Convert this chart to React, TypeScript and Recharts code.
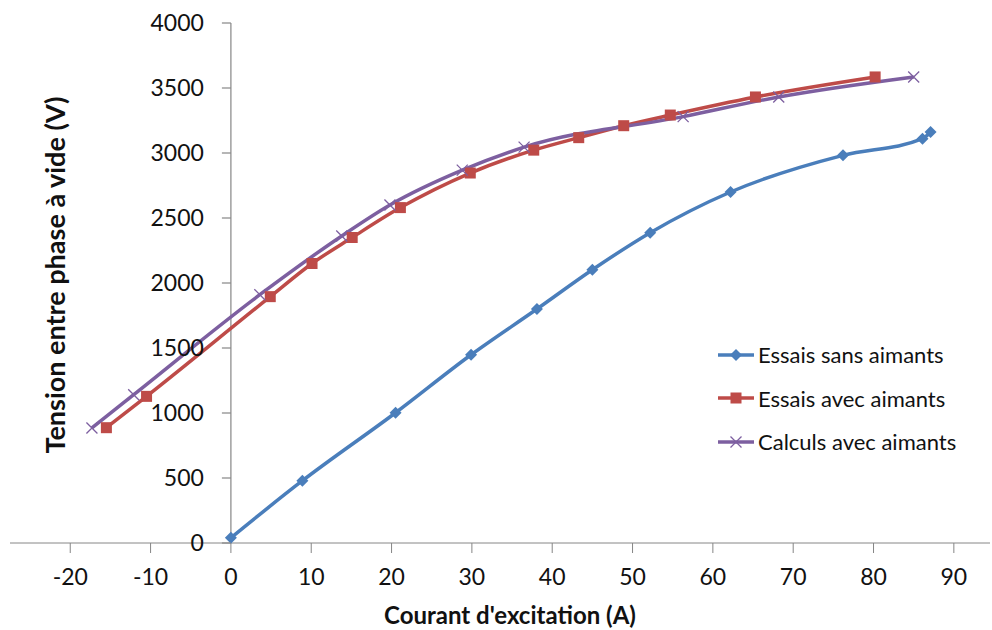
import { LineChart, Line, XAxis, YAxis, ReferenceLine } from "recharts";

// Essais sans aimants
const sansX = [0, 8.9, 20.5, 29.9, 38.1, 45, 52.2, 62.2, 76.2, 86.1, 87.1];
const sansY = [40, 479, 1002, 1448, 1800, 2102, 2387, 2700, 2982, 3110, 3162];

// Essais avec aimants
const avecX = [-15.5, -10.5, 4.9, 10.1, 15.1, 21.1, 29.8, 37.7, 43.3, 48.9, 54.7, 65.3, 80.2];
const avecY = [887, 1128, 1895, 2150, 2350, 2580, 2846, 3022, 3118, 3210, 3292, 3431, 3585];

// Calculs avec aimants
const calcX = [-17.3, -12.1, 3.6, 13.8, 19.8, 28.8, 36.5, 56.3, 68.2, 85];
const calcY = [885, 1141, 1910, 2362, 2600, 2868, 3045, 3280, 3431, 3585];

const seriesNames = ["Essais sans aimants", "Essais avec aimants", "Calculs avec aimants"];

const xTicks = [-20, -10, 0, 10, 20, 30, 40, 50, 60, 70, 80, 90];
const yTicks = [0, 500, 1000, 1500, 2000, 2500, 3000, 3500, 4000];

const X_MIN = -27.5;
const X_MAX = 94.5;

const W = 992;
const H = 630;
const M = { top: 23, right: 2, left: 9, bottom: 0 };
const Y_W = 1;
const plotW = W - M.left - Y_W - M.right;
const zeroPx = M.left + Y_W + ((0 - X_MIN) / (X_MAX - X_MIN)) * plotW;

const BLUE = "#4A7EBB";
const RED = "#BE4B48";
const PURPLE = "#7D5FA0";
const AXIS = "#868686";
const FONT = "Lato, 'Open Sans', sans-serif";

const toRows = (xs: number[], ys: number[]) => xs.map((x, i) => ({ x, y: ys[i] }));

function Diamond({ cx, cy, fill, r = 6 }: any) {
  if (cx == null || cy == null) return null;
  return <path d={`M${cx},${cy - r}L${cx + r},${cy}L${cx},${cy + r}L${cx - r},${cy}Z`} fill={fill} />;
}
function Square({ cx, cy, fill, r = 5.5 }: any) {
  if (cx == null || cy == null) return null;
  return <rect x={cx - r} y={cy - r} width={2 * r} height={2 * r} fill={fill} />;
}
function Cross({ cx, cy, stroke, r = 5.5 }: any) {
  if (cx == null || cy == null) return null;
  return (
    <path
      d={`M${cx - r},${cy - r}L${cx + r},${cy + r}M${cx - r},${cy + r}L${cx + r},${cy - r}`}
      stroke={stroke}
      strokeWidth={1.3}
      fill="none"
    />
  );
}

function renderYTick(props: any) {
  const { y, payload } = props;
  return (
    <g key={payload.value}>
      <line x1={zeroPx - 9} x2={zeroPx} y1={y} y2={y} stroke={AXIS} strokeWidth={1.2} />
      <text x={zeroPx - 27} y={y} dy="0.36em" textAnchor="end" fontSize={23} fill="#111" fontFamily={FONT}>
        {payload.value}
      </text>
    </g>
  );
}

const legendItems = [
  { name: seriesNames[0], color: BLUE, mark: <Diamond cx={19} cy={10} fill={BLUE} /> },
  { name: seriesNames[1], color: RED, mark: <Square cx={19} cy={10} fill={RED} /> },
  { name: seriesNames[2], color: PURPLE, mark: <Cross cx={19} cy={10} stroke={PURPLE} /> },
];

export default function App() {
  return (
    <div style={{ position: "absolute", left: 0, top: 0, width: W, height: H, background: "#fff" }}>
      <LineChart width={W} height={H} margin={M}>
        <XAxis
          dataKey="x"
          type="number"
          domain={[X_MIN, X_MAX]}
          ticks={xTicks}
          allowDataOverflow
          height={87}
          tickSize={10}
          tickMargin={16}
          stroke={AXIS}
          tick={{ fill: "#111", fontSize: 23, fontFamily: FONT }}
          label={{
            value: "Courant d'excitation (A)",
            position: "insideBottom",
            offset: 6,
            fill: "#111",
            fontSize: 24,
            fontWeight: 700,
            fontFamily: FONT,
            dx: 10,
          }}
        />
        <YAxis
          dataKey="y"
          type="number"
          domain={[0, 4000]}
          ticks={yTicks}
          width={Y_W}
          axisLine={false}
          tickLine={false}
          tick={renderYTick}
        />
        <ReferenceLine x={0} stroke={AXIS} strokeWidth={1.2} />
        <Line
          data={toRows(sansX, sansY)}
          dataKey="y"
          name={seriesNames[0]}
          type="monotone"
          stroke={BLUE}
          strokeWidth={3.5}
          dot={(p: any) => <Diamond key={p.index} cx={p.cx} cy={p.cy} fill={BLUE} />}
          isAnimationActive={false}
        />
        <Line
          data={toRows(avecX, avecY)}
          dataKey="y"
          name={seriesNames[1]}
          type="monotone"
          stroke={RED}
          strokeWidth={3.5}
          dot={(p: any) => <Square key={p.index} cx={p.cx} cy={p.cy} fill={RED} />}
          isAnimationActive={false}
        />
        <Line
          data={toRows(calcX, calcY)}
          dataKey="y"
          name={seriesNames[2]}
          type="monotone"
          stroke={PURPLE}
          strokeWidth={3.5}
          dot={(p: any) => <Cross key={p.index} cx={p.cx} cy={p.cy} stroke={PURPLE} />}
          isAnimationActive={false}
        />
      </LineChart>
      <div style={{ position: "absolute", left: 717, top: 333, fontFamily: FONT, fontSize: 22, color: "#111" }}>
        {legendItems.map((it) => (
          <div key={it.name} style={{ display: "flex", alignItems: "center", height: 43.5 }}>
            <svg width={38} height={20}>
              <line x1={1} x2={37} y1={10} y2={10} stroke={it.color} strokeWidth={3.5} />
              {it.mark}
            </svg>
            <span style={{ marginLeft: 3 }}>{it.name}</span>
          </div>
        ))}
      </div>
      <div
        style={{
          position: "absolute",
          left: 54,
          top: 275,
          transform: "translate(-50%, -50%) rotate(-90deg)",
          whiteSpace: "nowrap",
          fontFamily: FONT,
          fontSize: 27,
          fontWeight: 700,
          color: "#111",
        }}
      >
        Tension entre phase à vide (V)
      </div>
    </div>
  );
}
